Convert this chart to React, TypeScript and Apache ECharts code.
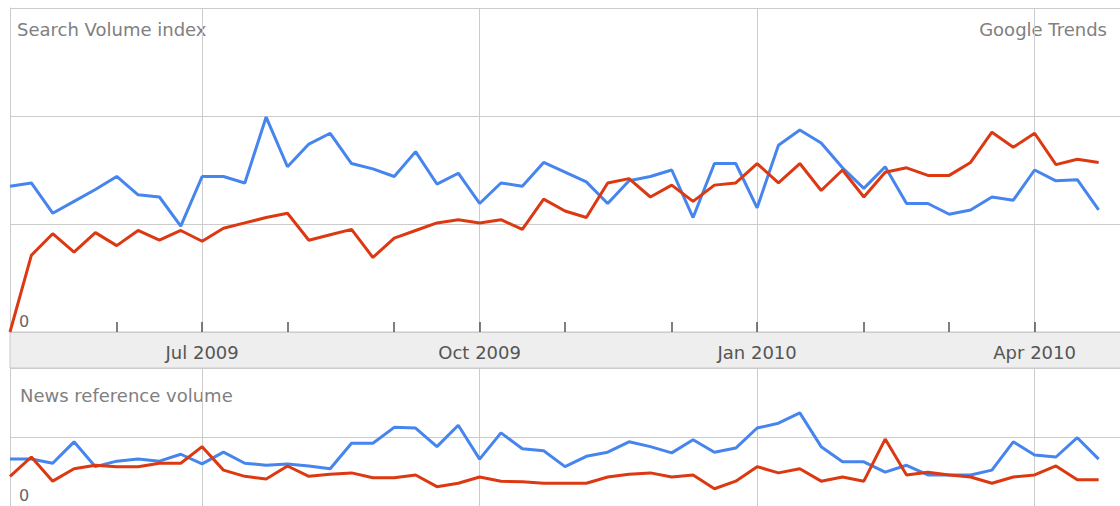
import React, { useEffect, useRef } from "react";
import * as echarts from "echarts";

const weeks = [
  "2009-04-26", "2009-05-03", "2009-05-10", "2009-05-17", "2009-05-24", "2009-05-31",
  "2009-06-07", "2009-06-14", "2009-06-21", "2009-06-28", "2009-07-05", "2009-07-12",
  "2009-07-19", "2009-07-26", "2009-08-02", "2009-08-09", "2009-08-16", "2009-08-23",
  "2009-08-30", "2009-09-06", "2009-09-13", "2009-09-20", "2009-09-27", "2009-10-04",
  "2009-10-11", "2009-10-18", "2009-10-25", "2009-11-01", "2009-11-08", "2009-11-15",
  "2009-11-22", "2009-11-29", "2009-12-06", "2009-12-13", "2009-12-20", "2009-12-27",
  "2010-01-03", "2010-01-10", "2010-01-17", "2010-01-24", "2010-01-31", "2010-02-07",
  "2010-02-14", "2010-02-21", "2010-02-28", "2010-03-07", "2010-03-14", "2010-03-21",
  "2010-03-28", "2010-04-04", "2010-04-11", "2010-04-18", "2010-04-25",
];

// month ticks (week containing the month start) and quarter labels
const monthTickIdx = [5, 9, 13, 18, 22, 26, 31, 35, 40, 44, 48];
const quarterIdx = [9, 22, 35, 48];
const quarterLabels = ["Jul 2009", "Oct 2009", "Jan 2010", "Apr 2010"];

// Search Volume index
const searchBlue = [
  1.35, 1.38, 1.10, 1.21, 1.32, 1.44, 1.27, 1.25, 0.98, 1.44, 1.44, 1.38, 1.99,
  1.53, 1.74, 1.84, 1.56, 1.51, 1.44, 1.67, 1.37, 1.47, 1.19, 1.38, 1.35, 1.57,
  1.48, 1.39, 1.19, 1.40, 1.44, 1.50, 1.06, 1.56, 1.56, 1.15, 1.73, 1.87, 1.75,
  1.52, 1.33, 1.53, 1.19, 1.19, 1.09, 1.13, 1.25, 1.22, 1.50, 1.40, 1.41, 1.13,
];
const searchRed = [
  0.0, 0.71, 0.91, 0.74, 0.92, 0.80, 0.94, 0.85, 0.94, 0.84, 0.96, 1.01, 1.06,
  1.10, 0.85, 0.90, 0.95, 0.69, 0.87, 0.94, 1.01, 1.04, 1.01, 1.04, 0.95, 1.23,
  1.12, 1.06, 1.38, 1.42, 1.25, 1.36, 1.21, 1.36, 1.38, 1.56, 1.38, 1.56, 1.31,
  1.50, 1.25, 1.48, 1.52, 1.45, 1.45, 1.57, 1.85, 1.71, 1.84, 1.55, 1.60, 1.57,
];

// News reference volume
const newsBlue = [
  0.68, 0.68, 0.62, 0.93, 0.57, 0.65, 0.68, 0.65, 0.75, 0.61, 0.78, 0.62, 0.59,
  0.61, 0.58, 0.54, 0.91, 0.91, 1.14, 1.13, 0.86, 1.17, 0.68, 1.06, 0.83, 0.80,
  0.57, 0.72, 0.78, 0.93, 0.86, 0.77, 0.96, 0.78, 0.84, 1.13, 1.20, 1.35, 0.86,
  0.64, 0.64, 0.49, 0.59, 0.45, 0.45, 0.45, 0.52, 0.93, 0.74, 0.71, 0.99, 0.68,
];
const newsRed = [
  0.43, 0.71, 0.36, 0.54, 0.59, 0.57, 0.57, 0.62, 0.62, 0.86, 0.52, 0.43, 0.39,
  0.58, 0.43, 0.46, 0.48, 0.41, 0.41, 0.45, 0.28, 0.33, 0.42, 0.36, 0.35, 0.33,
  0.33, 0.33, 0.42, 0.46, 0.48, 0.42, 0.45, 0.25, 0.36, 0.57, 0.48, 0.54, 0.36,
  0.42, 0.36, 0.97, 0.45, 0.49, 0.45, 0.42, 0.33, 0.42, 0.45, 0.58, 0.38, 0.38,
];

const BLUE = "#4684ee";
const RED = "#dc3912";
const GRID = "#cccccc";
const FONT = "DejaVu Sans";

export default function App() {
  const ref = useRef<HTMLDivElement>(null);

  useEffect(() => {
    if (!ref.current) return;
    const chart = echarts.init(ref.current, undefined, { renderer: "svg" });

    const tickFn = (i: number) => monthTickIdx.includes(i);
    const quarterFn = (i: number) => quarterIdx.includes(i);

    const xCommon = (gridIndex: number, top: boolean) => ({
      type: "category" as const,
      gridIndex,
      data: weeks,
      boundaryGap: false,
      position: top ? "top" : "bottom",
      axisLine: { show: false },
      axisTick: {
        show: true,
        inside: true,
        length: 10,
        interval: tickFn,
        lineStyle: { color: "#555", width: 1.5 },
      },
      axisLabel: top
        ? { show: false }
        : {
            show: true,
            interval: quarterFn,
            formatter: (_v: string, i: number) => {
              const k = quarterIdx.indexOf(i);
              return k >= 0 ? quarterLabels[k] : "";
            },
            margin: 11,
            fontSize: 18,
            fontFamily: FONT,
            color: "#555",
          },
      splitLine: {
        show: true,
        interval: quarterFn,
        lineStyle: { color: GRID, width: 1 },
      },
    });

    const yCommon = (gridIndex: number, max: number) => ({
      type: "value" as const,
      gridIndex,
      min: 0,
      max,
      interval: 1,
      axisLine: { show: true, lineStyle: { color: GRID, width: 1 } },
      axisTick: { show: false },
      splitLine: { show: true, lineStyle: { color: GRID, width: 1 } },
      axisLabel: {
        show: true,
        inside: true,
        margin: 9,
        verticalAlign: "bottom",
        padding: [0, 0, 3, 0],
        fontSize: 16,
        fontFamily: FONT,
        color: "#666",
        formatter: (v: number) => (v === 0 ? "0" : ""),
      },
    });

    const lineSeries = (name: string, data: number[], color: string, idx: number) => ({
      name,
      type: "line" as const,
      xAxisIndex: idx,
      yAxisIndex: idx,
      data,
      showSymbol: false,
      symbol: "none",
      smooth: false,
      lineStyle: { color, width: 3 },
      itemStyle: { color },
    });

    chart.setOption({
      animation: false,
      backgroundColor: "#ffffff",
      grid: [
        { left: 10, top: 8, width: 1112, height: 324 },
        { left: 10, top: 368, width: 1112, height: 138 },
      ],
      xAxis: [xCommon(0, false), xCommon(1, true)],
      yAxis: [yCommon(0, 3), yCommon(1, 2)],
      series: [
        lineSeries("Search blue", searchBlue, BLUE, 0),
        lineSeries("Search red", searchRed, RED, 0),
        lineSeries("News blue", newsBlue, BLUE, 1),
        lineSeries("News red", newsRed, RED, 1),
      ],
      graphic: [
        {
          type: "rect",
          z: -10,
          shape: { x: 10, y: 332, width: 1115, height: 36 },
          style: { fill: "#eeeeee", stroke: "#c8c8c8", lineWidth: 1 },
        },
        {
          type: "text",
          x: 17,
          y: 29,
          style: {
            text: "Search Volume index",
            fontSize: 18,
            fontFamily: FONT,
            fill: "#808080",
            verticalAlign: "middle",
            align: "left",
          },
        },
        {
          type: "text",
          x: 1107,
          y: 29,
          style: {
            text: "Google Trends",
            fontSize: 18,
            fontFamily: FONT,
            fill: "#808080",
            verticalAlign: "middle",
            align: "right",
          },
        },
        {
          type: "text",
          x: 20,
          y: 395,
          style: {
            text: "News reference volume",
            fontSize: 18,
            fontFamily: FONT,
            fill: "#808080",
            verticalAlign: "middle",
            align: "left",
          },
        },
      ],
    });

    return () => chart.dispose();
  }, []);

  return (
    <div
      ref={ref}
      style={{ position: "fixed", left: 0, top: 0, width: 1120, height: 506, background: "#fff" }}
    />
  );
}
